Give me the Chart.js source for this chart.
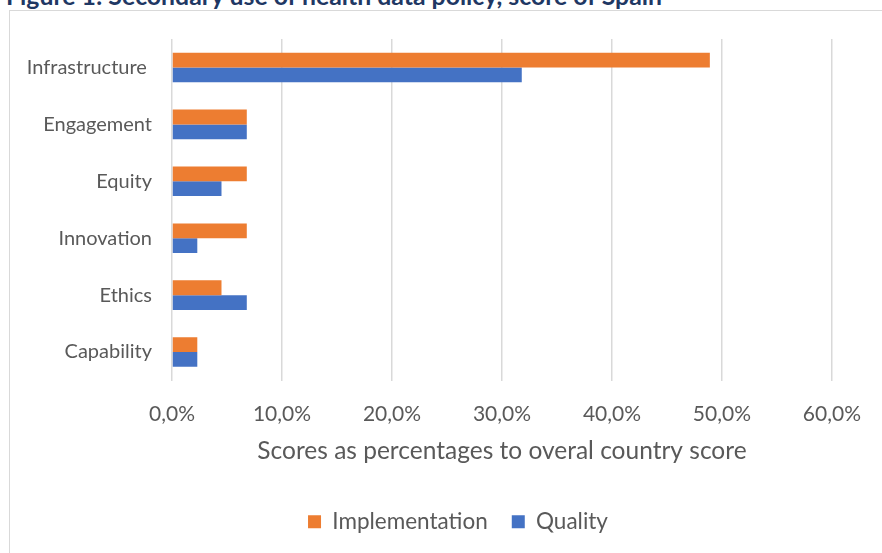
<!DOCTYPE html>
<html>
<head>
<meta charset="utf-8">
<script src="https://cdn.jsdelivr.net/npm/chart.js@4"></script>
<style>
  html, body { margin: 0; padding: 0; background: #fff; }
  body { width: 882px; height: 553px; overflow: hidden; position: relative; font-family: Lato, sans-serif; }
  .fig-title { position: absolute; left: 6px; top: -19px; font: bold 24.8px Lato, sans-serif; color: #1f3864; white-space: nowrap; }
  .frame { position: absolute; left: 9px; top: 10px; width: 900px; height: 560px; border: 1px solid #d9d9d9; }
  #wrap { position: absolute; left: 0; top: 0; width: 882px; height: 553px; }
</style>
</head>
<body>
<div class="fig-title">Figure 1: Secondary use of health data policy, score of Spain</div>
<div class="frame"></div>
<div id="wrap"><canvas id="cScores"></canvas></div>
<script>
// Categorías (de arriba a abajo) y puntuaciones en %
const CATEGORIES = ['Infrastructure ', 'Engagement', 'Equity', 'Innovation', 'Ethics', 'Capability'];
const IMPLEMENTATION = [48.9, 6.8, 6.8, 6.8, 4.5, 2.3];
const QUALITY = [31.8, 6.8, 4.5, 2.3, 6.8, 2.3];
const X_TICKS = [0, 10, 20, 30, 40, 50, 60];

const TXT = '#595959';
const GRID = '#d9d9d9';
const FONT = 'Lato, sans-serif';

// formato español: 10,0%
const pct = v => v.toFixed(1).replace('.', ',') + '%';

// la leyenda se centra sobre el marco completo, no sobre el canvas
const legendShift = {
  id: 'legendShift',
  afterLayout(chart) {
    chart.legend.left += 40;
    chart.legend.right += 40;
  }
};

new Chart(document.getElementById('cScores').getContext('2d'), {
  type: 'bar',
  data: {
    labels: CATEGORIES,
    datasets: [
      { label: 'Implementation', data: IMPLEMENTATION, backgroundColor: '#ed7d31', borderWidth: 0 },
      { label: 'Quality', data: QUALITY, backgroundColor: '#4472c4', borderWidth: 0 }
    ]
  },
  plugins: [legendShift],
  options: {
    indexAxis: 'y',
    responsive: true, maintainAspectRatio: false, animation: false,
    categoryPercentage: 0.52, barPercentage: 1,
    layout: { padding: { top: 39, right: 46, bottom: 10, left: 0 } },
    plugins: {
      tooltip: { enabled: false },
      legend: {
        position: 'bottom',
        labels: { color: TXT, boxWidth: 13, boxHeight: 13, padding: 24, font: { family: FONT, size: 22.5 } }
      }
    },
    scales: {
      x: {
        min: 0, max: 60,
        afterBuildTicks: s => { s.ticks = X_TICKS.map(v => ({ value: v })); },
        afterFit: s => { s.height = 106; },
        grid: { color: GRID, lineWidth: 1.5, drawTicks: false },
        border: { display: false },
        ticks: { color: TXT, padding: 21, font: { family: FONT, size: 21 }, callback: v => pct(v) },
        title: { display: true, text: 'Scores as percentages to overal country score', color: TXT, padding: { top: 0, bottom: 21 }, font: { family: FONT, size: 24.5 } }
      },
      y: {
        afterFit: s => { s.width = 172; },
        grid: { display: false, drawTicks: false },
        border: { display: false },
        ticks: { color: TXT, padding: 20, font: { family: FONT, size: 20 } }
      }
    }
  }
});
</script>
</body>
</html>
